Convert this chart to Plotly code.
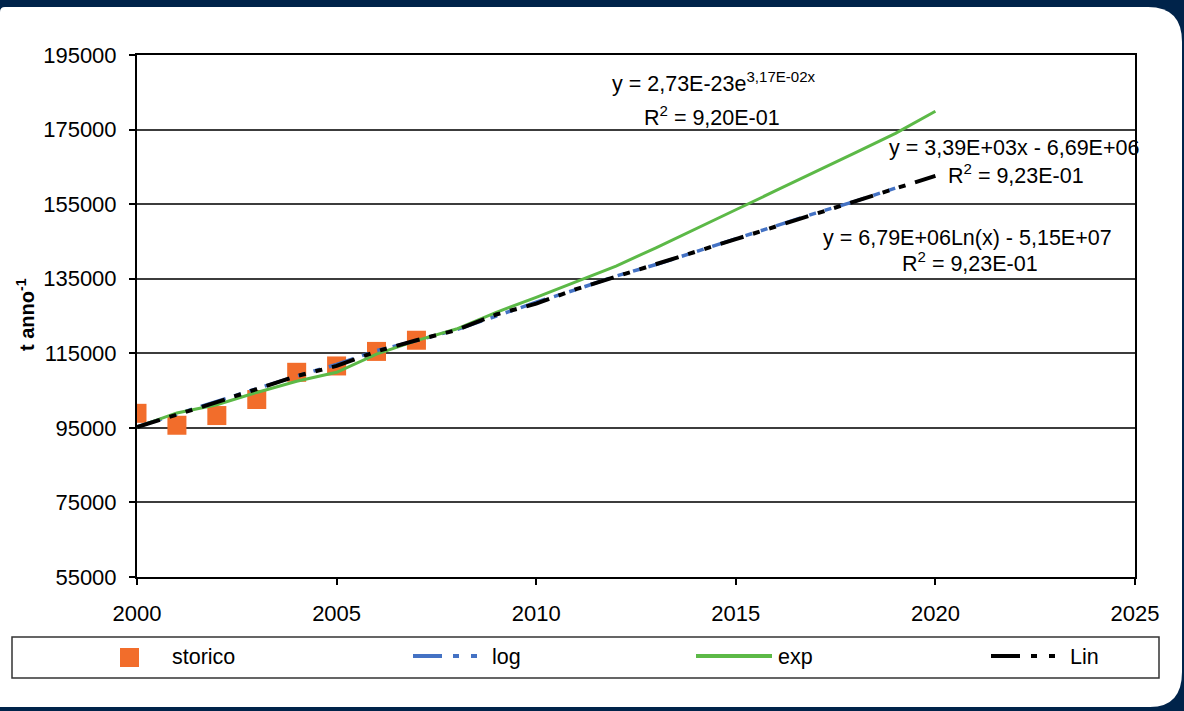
import plotly.graph_objects as go

# dati
anni_storico = [2000, 2001, 2002, 2003, 2004, 2005, 2006, 2007]
storico = [98900, 95700, 98300, 102600, 109900, 111600, 115500, 118500]

anni_log = list(range(2000, 2020))
log_vals = [95300, 98700, 102300, 105600, 108900, 112000, 115700, 118400, 121300, 125000,
            128700, 132100, 135700, 138800, 142300, 145800, 149200, 152600, 155800, 159300]

anni_exp = list(range(2000, 2021))
exp_vals = [95200, 99000, 101200, 104500, 107500, 109900, 114800, 118400, 121500, 126000,
            130000, 134300, 138400, 143300, 148300, 153500, 158600, 163600, 168800, 174000, 179900]

anni_lin = list(range(2000, 2021))
lin_vals = [95200, 98500, 101900, 105400, 108900, 111600, 115500, 118500, 121200, 125400,
            128300, 132200, 135500, 138900, 142300, 145600, 149000, 152400, 155700, 159000, 162600]

ARANCIO = "#F26D2B"
BLU = "#4472C4"
VERDE = "#5CB947"
NERO = "#000000"
NAVY = "#00234A"
FONT = "Liberation Sans, Arial, sans-serif"

W, H = 1184, 711
ML, MR, MT, MB = 137, 49, 55, 134
PW, PH = W - ML - MR, H - MT - MB


def px(x):
    return (x - ML) / PW


def py(y):
    return (H - MB - y) / PH


fig = go.Figure()
fig.add_trace(go.Scatter(x=anni_storico, y=storico, mode="markers", name="storico",
                         marker=dict(symbol="square", size=19, color=ARANCIO)))
fig.add_trace(go.Scatter(x=anni_log, y=log_vals, mode="lines", name="log",
                         line=dict(color=BLU, width=3.5, dash="26px,9px,7px,9px,7px,9px")))
fig.add_trace(go.Scatter(x=anni_exp, y=exp_vals, mode="lines", name="exp",
                         line=dict(color=VERDE, width=3)))
fig.add_trace(go.Scatter(x=anni_lin, y=lin_vals, mode="lines", name="Lin",
                         line=dict(color=NERO, width=4, dash="24px,10px,7px,10px,7px,10px")))

shapes = []
# cornice blu con angoli arrotondati
shapes.append(dict(
    type="path", xref="paper", yref="paper", layer="below", line=dict(width=0), fillcolor="white",
    path=(f"M {px(0)},{py(12)} Q {px(0)},{py(7)} {px(5)},{py(7)} L {px(1148)},{py(7)} "
          f"Q {px(1182)},{py(7)} {px(1182)},{py(42)} L {px(1182)},{py(672)} "
          f"Q {px(1182)},{py(707)} {px(1150)},{py(707)} L {px(0)},{py(707)} Z")))

# legenda
shapes.append(dict(type="rect", xref="paper", yref="paper", x0=px(12), x1=px(1159), y0=py(637), y1=py(678),
                   line=dict(color="#333333", width=1.5), fillcolor="white"))
shapes.append(dict(type="rect", xref="paper", yref="paper", x0=px(120), x1=px(139), y0=py(648), y1=py(667),
                   line=dict(width=0), fillcolor=ARANCIO))
shapes.append(dict(type="line", xref="paper", yref="paper", x0=px(413), x1=px(488), y0=py(656), y1=py(656),
                   line=dict(color=BLU, width=4, dash="29px,11px,6px,12px,6px,11px")))
shapes.append(dict(type="line", xref="paper", yref="paper", x0=px(696), x1=px(772), y0=py(656), y1=py(656),
                   line=dict(color=VERDE, width=4)))
shapes.append(dict(type="line", xref="paper", yref="paper", x0=px(991), x1=px(1066), y0=py(656), y1=py(656),
                   line=dict(color=NERO, width=4, dash="29px,11px,6px,12px,6px,11px")))

annotations = []


def testo(t, x, y, size=21.5, **kw):
    annotations.append(dict(text=t, x=px(x), y=py(y), xref="paper", yref="paper", showarrow=False,
                            xanchor="left", yanchor="middle", font=dict(family=FONT, size=size, color="black"),
                            **kw))


testo("storico", 170, 657)
testo("log", 490, 657)
testo("exp", 776, 657)
testo("Lin", 1068, 657)

testo("y = 2,73E-23e<sup>3,17E-02x</sup>", 610, 82)
testo("R<sup>2</sup> = 9,20E-01", 642, 116)
testo("y = 3,39E+03x - 6,69E+06", 887, 148)
testo("R<sup>2</sup> = 9,23E-01", 946, 174)
testo("y = 6,79E+06Ln(x) - 5,15E+07", 821, 238)
testo("R<sup>2</sup> = 9,23E-01", 900, 262)

annotations.append(dict(text="<b>t anno<sup>-1</sup></b>", x=px(25), y=py(315), xref="paper", yref="paper",
                        showarrow=False, textangle=-90, xanchor="center", yanchor="middle",
                        font=dict(family=FONT, size=20, color="black")))

fig.update_layout(
    width=W, height=H,
    margin=dict(l=ML, r=MR, t=MT, b=MB),
    paper_bgcolor=NAVY,
    plot_bgcolor="rgba(0,0,0,0)",
    showlegend=False,
    shapes=shapes,
    annotations=annotations,
    font=dict(family=FONT, size=21, color="black"),
)
fig.update_xaxes(range=[2000, 2025], tick0=2000, dtick=5, showgrid=False, zeroline=False,
                 ticks="outside", ticklen=6, tickcolor="black", tickwidth=1.5,
                 showline=True, linecolor="black", linewidth=2, mirror=True,
                 tickfont=dict(family=FONT, size=22), ticklabelstandoff=10)
fig.update_yaxes(range=[55000, 195000], tick0=55000, dtick=20000, tickformat="d", showgrid=True,
                 gridcolor="#3c3c3c", gridwidth=1.5, zeroline=False,
                 ticks="outside", ticklen=6, tickcolor="black", tickwidth=1.5,
                 showline=True, linecolor="black", linewidth=2, mirror=True,
                 tickfont=dict(family=FONT, size=22), ticklabelstandoff=8)

fig.write_html("out.html", config={"displayModeBar": False},
               post_script="document.body.style.margin='0';document.body.style.overflow='hidden';")
